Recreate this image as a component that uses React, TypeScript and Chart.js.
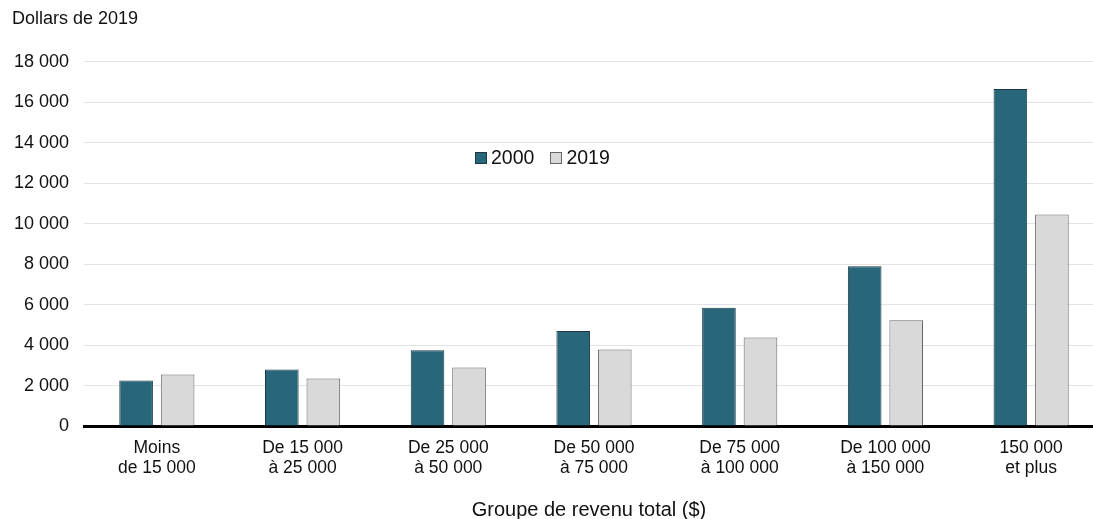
import React, { useEffect, useRef } from "react";
import { Chart, registerables } from "chart.js";

Chart.register(...registerables);

const categories: string[][] = [
  ["Moins", "de 15 000"],
  ["De 15 000", "à 25 000"],
  ["De 25 000", "à 50 000"],
  ["De 50 000", "à 75 000"],
  ["De 75 000", "à 100 000"],
  ["De 100 000", "à 150 000"],
  ["150 000", "et plus"],
];
const values2000 = [2250, 2800, 3750, 4700, 5850, 7900, 16650];
const values2019 = [2550, 2350, 2900, 3780, 4370, 5230, 10450];
const seriesLabels = ["2000", "2019"];
const yTitle = "Dollars de 2019";
const xTitle = "Groupe de revenu total ($)";

const DARK = "#28677a";
const DARK_BORDER = "#1c3a44";
const LIGHT = "#d9d9d9";
const LIGHT_BORDER = "#666666";
const FONT = "'Liberation Sans', Arial, sans-serif";

export default function App() {
  const ref = useRef<HTMLCanvasElement | null>(null);
  useEffect(() => {
    if (!ref.current) return;
    const chart = new Chart(ref.current, {
      type: "bar",
      data: {
        labels: categories,
        datasets: [
          {
            label: seriesLabels[0],
            data: values2000,
            backgroundColor: DARK,
            borderColor: DARK_BORDER,
            borderWidth: 1,
            categoryPercentage: 0.57,
            barPercentage: 0.81,
          },
          {
            label: seriesLabels[1],
            data: values2019,
            backgroundColor: LIGHT,
            borderColor: LIGHT_BORDER,
            borderWidth: 1,
            categoryPercentage: 0.57,
            barPercentage: 0.81,
          },
        ],
      },
      options: {
        animation: false,
        responsive: false,
        maintainAspectRatio: false,
        layout: { padding: { left: 12, right: 0, top: 0, bottom: 29 } },
        plugins: {
          legend: { display: false },
          tooltip: { enabled: false },
          title: {
            display: true,
            text: yTitle,
            align: "start",
            color: "#111",
            font: { family: FONT, size: 18, weight: "normal" },
            padding: { top: 8, bottom: 32 },
          },
        },
        scales: {
          x: {
            grid: { display: false, drawTicks: false },
            border: { display: true, color: "#000", width: 3 },
            ticks: {
              color: "#111",
              font: { family: FONT, size: 17.5, lineHeight: 1.14 },
              padding: 12,
              maxRotation: 0,
              autoSkip: false,
            },
          },
          y: {
            min: 0,
            max: 18000,
            afterFit: (s: any) => {
              s.width = 72;
            },
            grid: { color: "#e3e3e3", lineWidth: 1, drawTicks: false },
            border: { display: false },
            ticks: {
              stepSize: 2000,
              color: "#111",
              padding: 15,
              font: { family: FONT, size: 18 },
              callback: (v: any) =>
                Number(v)
                  .toString()
                  .replace(/\B(?=(\d{3})+(?!\d))/g, " "),
            },
          },
        },
      },
    });
    return () => chart.destroy();
  }, []);

  const box = (bg: string, border: string): React.CSSProperties => ({
    display: "inline-block",
    width: 10,
    height: 10,
    background: bg,
    border: `1px solid ${border}`,
    marginRight: 4,
  });

  return (
    <div style={{ position: "absolute", left: 0, top: 0, width: 1093, height: 519, overflow: "hidden" }}>
      <canvas ref={ref} width={1104} height={519} style={{ display: "block" }} />
      <div
        style={{
          position: "absolute",
          left: 475,
          top: 146,
          fontFamily: FONT,
          fontSize: 19.5,
          color: "#111",
          display: "flex",
          alignItems: "center",
          whiteSpace: "nowrap",
        }}
      >
        <span style={box(DARK, DARK_BORDER)} />
        <span style={{ marginRight: 16 }}>{seriesLabels[0]}</span>
        <span style={box(LIGHT, LIGHT_BORDER)} />
        <span>{seriesLabels[1]}</span>
      </div>
      <div
        style={{
          position: "absolute",
          left: 389,
          width: 400,
          top: 497,
          lineHeight: "24px",
          textAlign: "center",
          fontFamily: FONT,
          fontSize: 20,
          color: "#111",
          whiteSpace: "nowrap",
        }}
      >
        {xTitle}
      </div>
    </div>
  );
}
